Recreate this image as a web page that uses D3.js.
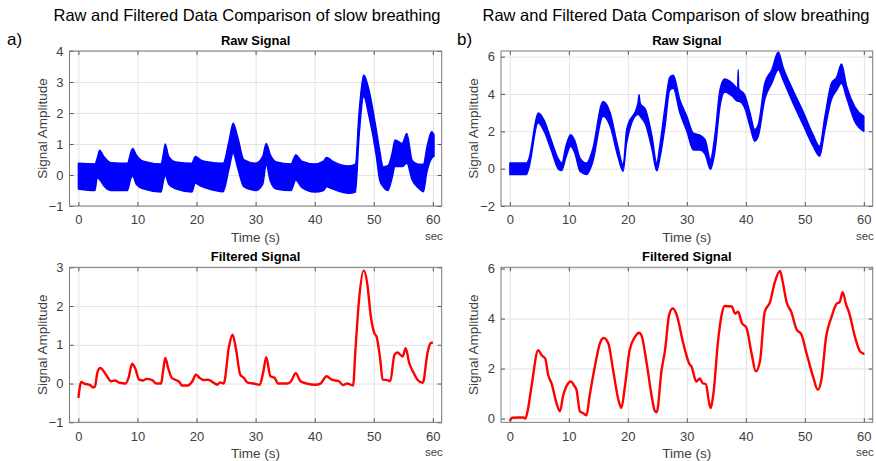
<!DOCTYPE html>
<html><head><meta charset="utf-8">
<script src="https://cdn.jsdelivr.net/npm/d3@7"></script>
<style>
body{margin:0;background:#fff;}
svg{display:block;font-family:"Liberation Sans",Arial,sans-serif;}
</style></head>
<body><svg id="c" width="876" height="461"></svg>
<script>
// ---- data ----
const xTicks = [0,10,20,30,40,50,60];
const yTicksRawA = [-1,0,1,2,3,4];
const yTicksFiltA = [-1,0,1,2,3];
const yTicksRawB = [-2,0,2,4,6];
const yTicksFiltB = [0,2,4,6];

// raw signal envelopes: [time, lower, upper]
const rawA = [[0,-0.45,0.38],[2.8,-0.5,0.36],[3.2,-0.1,0.55],[3.6,-0.15,0.8],[4.3,-0.35,0.6],[5.5,-0.5,0.4],[8.3,-0.5,0.38],[8.9,-0.1,0.75],[9.2,-0.03,0.86],[9.8,-0.3,0.65],[11,-0.45,0.45],[14.0,-0.55,0.36],[14.4,-0.2,0.7],[14.7,0.0,1.0],[15.3,-0.3,0.6],[16.5,-0.45,0.42],[19.2,-0.55,0.38],[19.8,-0.27,0.6],[20.6,-0.35,0.5],[22,-0.45,0.42],[24.5,-0.54,0.38],[25.5,0.2,1.1],[26.2,0.7,1.67],[27,0.2,1.2],[28,-0.38,0.5],[30,-0.5,0.38],[31.2,-0.3,0.6],[31.8,0.32,1.02],[32.5,-0.2,0.65],[33.5,-0.45,0.42],[36,-0.5,0.36],[36.8,-0.16,0.65],[37.8,-0.4,0.45],[40,-0.55,0.36],[41.5,-0.5,0.45],[42,-0.38,0.57],[43,-0.45,0.45],[45.8,-0.59,0.29],[46.9,-0.55,0.35],[47.5,1.2,2.0],[48.3,2.53,3.23],[49.2,1.88,2.74],[50.4,0.65,1.5],[51,-0.16,0.8],[51.6,-0.38,0.27],[52.4,-0.5,0.3],[53.1,-0.1,0.7],[53.6,0.27,1.13],[54.8,0.27,1.02],[55.6,0.38,1.34],[56.5,-0.16,0.48],[57.6,-0.43,0.35],[58.4,-0.54,0.35],[59,0.1,0.9],[59.8,0.54,1.4],[60.2,0.6,1.3]];

const rawB = [[0,-0.32,0.3],[2.8,-0.32,0.3],[3.2,0.0,0.5],[4.8,2.45,2.98],[5.8,2.0,2.6],[7,1.0,1.55],[8.3,-0.05,0.48],[8.8,-0.1,0.3],[9.5,0.6,1.2],[10.3,1.2,1.82],[11,0.84,1.5],[11.9,-0.14,0.57],[13,-0.32,0.3],[14,0.3,1.0],[15.8,2.8,3.6],[17,2.27,3.0],[18.3,0.66,1.2],[19.2,-0.14,0.2],[19.8,1.4,2.1],[21.7,2.9,3.5],[21.9,2.9,3.96],[22.1,2.8,3.5],[23,2.36,3.16],[24.1,1.02,1.73],[24.9,-0.12,0.3],[25.4,0.5,1.2],[26.3,2.26,3.3],[27.1,4.2,4.9],[27.7,4.3,5.0],[28.8,3.0,3.7],[30,2.0,2.8],[31.1,1.0,1.9],[32.2,1.0,1.8],[33.1,0.76,1.55],[34,-0.04,0.5],[34.8,1.0,1.9],[35.6,3.3,4.2],[36.4,4.1,4.8],[37.8,3.85,4.55],[38.6,3.6,4.3],[38.7,3.6,5.3],[38.8,3.6,4.3],[39.8,3.25,3.95],[40.7,2.27,3.0],[41.5,1.47,2.1],[42.1,1.73,2.35],[43.2,3.7,4.57],[44.4,4.57,5.3],[45.5,5.3,6.25],[46.3,4.75,5.45],[48,3.5,4.2],[49.7,2.35,3.06],[51.4,1.2,1.82],[52.5,0.67,1.2],[53.4,2.07,2.8],[54.5,3.7,4.57],[55.4,4.2,4.9],[56.2,4.57,5.6],[57.1,3.77,4.4],[58.5,2.5,3.3],[60,2.0,2.8]];

// filtered signals: [time, value]
const filtA = [[0,-0.37],[0.5,0.04],[1,0],[2,-0.04],[2.5,-0.1],[2.8,-0.08],[3.2,0.27],[3.7,0.4],[4.5,0.27],[5,0.15],[5.5,0.06],[6.2,0.08],[7,0.02],[8,0],[8.5,0.15],[9.1,0.51],[9.6,0.4],[10.3,0.1],[11,0.08],[11.5,0.12],[12.5,0.09],[13.2,0],[14,0],[14.3,0.27],[14.7,0.66],[15.2,0.4],[15.8,0.15],[16.5,0.09],[17.2,0.02],[17.5,-0.05],[18.5,-0.05],[19.3,0.06],[19.9,0.23],[20.5,0.15],[21.2,0.09],[22,0.1],[22.8,0.03],[23.5,-0.03],[24,0.03],[24.6,0],[25.5,0.96],[26.1,1.26],[26.7,0.87],[27.4,0.23],[28,0.15],[28.6,0.03],[29.7,0],[30.7,-0.03],[31.3,0.3],[31.8,0.68],[32.5,0.19],[33.2,0.15],[33.8,0],[35.4,0],[36,0.06],[36.8,0.27],[37.6,0.06],[38.7,0],[40.1,-0.03],[41,0],[42,0.19],[42.9,0.1],[44.1,0.06],[44.8,-0.04],[45.5,0],[46.5,-0.05],[46.9,0.87],[47.5,2.15],[48.3,2.92],[48.9,2.58],[49.5,1.73],[50.1,1.3],[50.5,1.2],[51.1,0.62],[51.5,0.1],[52.3,0.09],[52.8,0.06],[53.5,0.74],[54,0.8],[54.9,0.7],[55.4,0.91],[56,0.53],[56.6,0.32],[57.4,0.1],[58.3,0.02],[59.1,0.79],[59.6,1.04],[60,1.06]];

const filtB = [[0,-0.1],[0.4,0.03],[1.5,0.04],[2.3,0.04],[2.6,0],[2.94,0.22],[3.67,1.28],[4.8,2.73],[5.4,2.53],[6,2.4],[6.5,1.74],[7.07,1.41],[7.9,0.62],[8.5,0.29],[9,0.88],[9.9,1.41],[10.3,1.48],[11,1.28],[11.3,1.15],[11.86,0.29],[12.4,0.22],[13,0.13],[13.5,0.88],[14.4,2.07],[15.25,3.0],[15.9,3.22],[16.7,3.0],[17.5,1.94],[18.4,0.75],[18.9,0.42],[19.5,1.28],[20.3,2.73],[21.2,3.26],[21.9,3.43],[22.3,3.33],[23.2,2.2],[24.05,0.88],[24.6,0.29],[24.9,0.25],[25.7,1.91],[26.3,2.73],[27,4.15],[27.6,4.4],[28.2,4.2],[29.4,3.0],[30.4,2.2],[30.8,2.07],[31.6,1.48],[32.2,1.6],[32.7,1.41],[33.2,1.38],[34,0.42],[34.5,1.0],[35.3,3.13],[35.9,4.15],[36.4,4.5],[37.6,4.48],[38.2,4.2],[38.7,4.27],[39.3,3.83],[40.1,3.63],[40.97,2.6],[41.7,1.89],[42.4,2.3],[43.2,4.27],[44.1,4.66],[44.9,5.45],[45.8,5.9],[46.3,5.4],[46.9,4.66],[47.7,4.27],[48.6,3.56],[49.4,3.37],[50.3,2.6],[51.4,1.67],[52.2,1.15],[52.8,1.55],[53.6,3.26],[54.5,4.05],[55.4,4.6],[55.9,4.66],[56.4,5.05],[57,4.56],[57.5,4.24],[58.5,3.26],[59.4,2.67],[60.1,2.58]];

const mainTitle = "Raw and Filtered Data Comparison of slow breathing";

// ---- drawing ----
const svg = d3.select("#c");
const xDomain = [-1.5, 61.5];
let clipId = 0;

function panel(o){
  const x = d3.scaleLinear(xDomain, [o.l, o.r]);
  const y = d3.scaleLinear(o.yDomain, [o.b, o.t]);
  const g = svg.append("g");
  const h = o.b - o.t, w = o.r - o.l;
  g.append("rect").attr("x",o.l).attr("y",o.t).attr("width",w).attr("height",h).attr("fill","#fff");
  // grid
  const gx = g.append("g").attr("transform",`translate(0,${o.b})`)
    .call(d3.axisBottom(x).tickValues(xTicks).tickSize(-h).tickFormat(""));
  const gy = g.append("g").attr("transform",`translate(${o.l},0)`)
    .call(d3.axisLeft(y).tickValues(o.yTicks).tickSize(-w).tickFormat(""));
  [gx,gy].forEach(a=>{a.select(".domain").remove(); a.selectAll("line").attr("stroke","#e3e3e3").attr("stroke-width",1);});
  // data
  const id = "clip"+(clipId++);
  svg.append("clipPath").attr("id",id).append("rect").attr("x",o.l).attr("y",o.t).attr("width",w).attr("height",h);
  const dg = g.append("g").attr("clip-path",`url(#${id})`);
  if(o.band){
    dg.append("path").datum(o.band)
      .attr("d", d3.area().x(d=>x(d[0])).y0(d=>y(d[1])).y1(d=>y(d[2])).curve(d3.curveMonotoneX))
      .attr("fill","#0000ff").attr("stroke","#0000ff").attr("stroke-width",1.4).attr("stroke-linejoin","round");
  }
  if(o.line){
    dg.append("path").datum(o.line)
      .attr("d", d3.line().x(d=>x(d[0])).y(d=>y(d[1])).curve(d3.curveMonotoneX))
      .attr("fill","none").attr("stroke","#ff0000").attr("stroke-width",2.4).attr("stroke-linejoin","round");
  }
  // axes with inward ticks
  const ax = g.append("g").attr("transform",`translate(0,${o.b})`)
    .call(d3.axisBottom(x).tickValues(xTicks).tickSizeInner(-4).tickSizeOuter(0).tickPadding(9));
  const ay = g.append("g").attr("transform",`translate(${o.l},0)`)
    .call(d3.axisLeft(y).tickValues(o.yTicks).tickSizeInner(-4).tickSizeOuter(0).tickPadding(6).tickFormat(d3.format("d")));
  const at = g.append("g").attr("transform",`translate(0,${o.t})`)
    .call(d3.axisTop(x).tickValues(xTicks).tickSizeInner(-4).tickSizeOuter(0).tickFormat(""));
  const ar = g.append("g").attr("transform",`translate(${o.r},0)`)
    .call(d3.axisRight(y).tickValues(o.yTicks).tickSizeInner(-4).tickSizeOuter(0).tickFormat(""));
  [ax,ay,at,ar].forEach(a=>{
    a.select(".domain").remove();
    a.selectAll("line").attr("stroke","#555");
    a.selectAll("text").attr("fill","#404040").style("font-size","13px").style("font-family","'Liberation Sans',Arial,sans-serif");
  });
  // box
  g.append("rect").attr("x",o.l).attr("y",o.t).attr("width",w).attr("height",h)
    .attr("fill","none").attr("stroke","#7a7a7a").attr("stroke-width",1);
  // subtitle
  g.append("text").attr("x",(o.l+o.r)/2).attr("y",o.t-6).attr("text-anchor","middle")
    .style("font-size","13px").style("font-weight","bold").attr("fill","#000").text(o.title);
  // x label
  g.append("text").attr("x",(o.l+o.r)/2).attr("y",o.b+36).attr("text-anchor","middle")
    .style("font-size","13.5px").attr("fill","#404040").text("Time (s)");
  g.append("text").attr("x",x(60)+1).attr("y",o.b+34).attr("text-anchor","middle")
    .style("font-size","11.5px").attr("fill","#404040").text("sec");
  // y label
  g.append("text").attr("transform",`translate(${o.yl},${(o.t+o.b)/2}) rotate(-90)`).attr("text-anchor","middle")
    .style("font-size","13.5px").attr("fill","#404040").text("Signal Amplitude");
}

const LA = 69.5, RA = 441.7, LB = 501, RB = 872.7;
const T1 = 51, B1 = 206, T2 = 267.3, B2 = 422.3;

panel({l:LA,r:RA,t:T1,b:B1,yDomain:[-1,4],yTicks:yTicksRawA,band:rawA,title:"Raw Signal",yl:47});
panel({l:LA,r:RA,t:T2,b:B2,yDomain:[-1,3],yTicks:yTicksFiltA,line:filtA,title:"Filtered Signal",yl:47});
panel({l:LB,r:RB,t:T1,b:B1,yDomain:[-2,6.3],yTicks:yTicksRawB,band:rawB,title:"Raw Signal",yl:478});
panel({l:LB,r:RB,t:T2,b:B2,yDomain:[-0.15,6.05],yTicks:yTicksFiltB,line:filtB,title:"Filtered Signal",yl:478});

// main titles and panel letters
svg.append("text").attr("x",247).attr("y",21).attr("text-anchor","middle")
  .style("font-size","16.5px").attr("fill","#000").text(mainTitle);
svg.append("text").attr("x",676).attr("y",21).attr("text-anchor","middle")
  .style("font-size","16.5px").attr("fill","#000").text(mainTitle);
svg.append("text").attr("x",7).attr("y",45).style("font-size","17px").attr("fill","#000").text("a)");
svg.append("text").attr("x",457).attr("y",45).style("font-size","17px").attr("fill","#000").text("b)");
</script></body></html>
